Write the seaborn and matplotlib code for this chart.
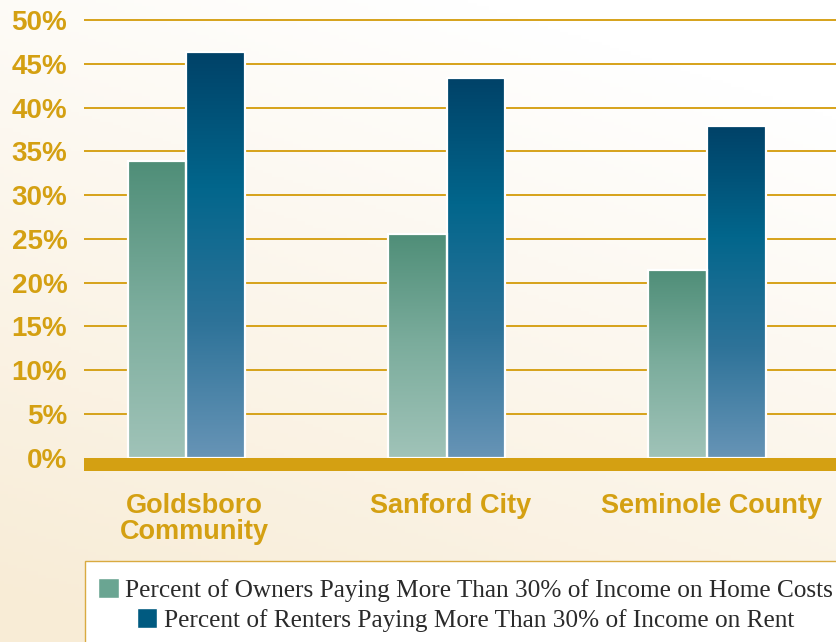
import numpy as np
import pandas as pd
import seaborn as sns
import matplotlib.pyplot as plt
from matplotlib.colors import LinearSegmentedColormap
from matplotlib.patches import Rectangle
from matplotlib.transforms import ScaledTranslation

# values
categories = ["Goldsboro\nCommunity", "Sanford City", "Seminole County"]
owners = [33.9, 25.6, 21.5]
renters = [46.3, 43.4, 37.9]
series = ["Percent of Owners Paying More Than 30% of Income on Home Costs",
          "Percent of Renters Paying More Than 30% of Income on Rent"]
yticks = [0, 5, 10, 15, 20, 25, 30, 35, 40, 45, 50]

GOLD = "#d4a012"

df = pd.DataFrame({
    "place": categories * 2,
    "value": owners + renters,
    "series": [series[0]] * 3 + [series[1]] * 3,
})

sns.set_style("white")
plt.rcParams["font.family"] = ["Liberation Sans", "DejaVu Sans"]

fig = plt.figure(figsize=(8.36, 6.42), dpi=100)

# background gradient (white top-right to cream bottom-left)
bg = fig.add_axes([0, 0, 1, 1], zorder=-10)
yy, xx = np.mgrid[0:1:200j, 0:1:200j]
t = np.clip(0.85 * (1 - yy) + 0.35 * (1 - xx) - 0.15, 0, 1)
bg_cmap = LinearSegmentedColormap.from_list("bg", ["#ffffff", "#f8ecd6"])
bg.imshow(t, cmap=bg_cmap, aspect="auto", extent=[0, 1, 0, 1], origin="lower", vmin=0, vmax=1)
bg.set_axis_off()

ax = fig.add_axes([0.1005, 0.2664, 0.8995, 0.7162])
ax.set_facecolor("none")

sns.barplot(data=df, x="place", y="value", hue="series", order=categories,
            hue_order=series, width=0.45, palette=["#6aa592", "#005a80"],
            edgecolor="white", linewidth=1.6, legend=False, ax=ax, zorder=3)

cmaps = [
    LinearSegmentedColormap.from_list("own", ["#a0c3b8", "#7cad9d", "#4f8e78"]),
    LinearSegmentedColormap.from_list("rent", ["#6794b6", "#2e7399", "#02668c", "#004268"]),
]
grad = np.linspace(1, 0, 256).reshape(-1, 1)
for i, container in enumerate(ax.containers):
    for bar in container:
        x0, y0 = bar.get_x(), bar.get_y()
        w, h = bar.get_width(), bar.get_height()
        img = ax.imshow(grad, cmap=cmaps[i], aspect="auto", zorder=2.5,
                        extent=[x0, x0 + w, y0, y0 + h], vmin=0, vmax=1)
        img.set_clip_path(bar)
        bar.set_facecolor("none")

ax.set_xlim(-0.392, 2.495)
ax.set_ylim(-1.5, 51)
ax.axhspan(-1.5, 0, color=GOLD, zorder=4, lw=0)
ax.set_yticks(yticks)
ax.set_yticklabels([f"{v}%" for v in yticks])
for v in yticks[1:]:
    ax.axhline(v, color="#d6a21a", lw=1.4, zorder=1)

ax.tick_params(axis="y", length=0, pad=12, labelsize=20, labelcolor=GOLD)
ax.tick_params(axis="x", length=0, pad=16, labelsize=19.5, labelcolor=GOLD)
for lab in ax.get_xticklabels() + ax.get_yticklabels():
    lab.set_fontweight("bold")
    lab.set_linespacing(0.98)
# category labels sit a little right of the bar pairs
for lab, dx in zip(ax.get_xticklabels(), [8, 4, 4]):
    lab.set_transform(lab.get_transform() + ScaledTranslation(dx / 100, 0, fig.dpi_scale_trans))
ax.set_xlabel("")
ax.set_ylabel("")
for s in ax.spines.values():
    s.set_visible(False)

# legend box
fig.patches.append(Rectangle((85 / 836, -0.05), 1.0, 0.05 + 1 - 561 / 642,
                             transform=fig.transFigure, facecolor="white",
                             edgecolor="#d9aa40", lw=1.0, zorder=1))
leg_colors = ["#6aa592", "#005a80"]
leg_y = [1 - 590 / 642, 1 - 620 / 642]
for label, col, yv in zip(series, leg_colors, leg_y):
    h = Rectangle((0, 0), 1, 1, facecolor=col)
    lg = fig.legend(handles=[h], labels=[label], loc="center", bbox_to_anchor=(0.557, yv),
                    frameon=False, handlelength=0.8, handleheight=0.8, handletextpad=0.25,
                    prop={"family": "Liberation Serif", "size": 18.2}, borderpad=0)
    for txt in lg.get_texts():
        txt.set_color("#2a2a2a")

fig.savefig("out.png", dpi=100)
